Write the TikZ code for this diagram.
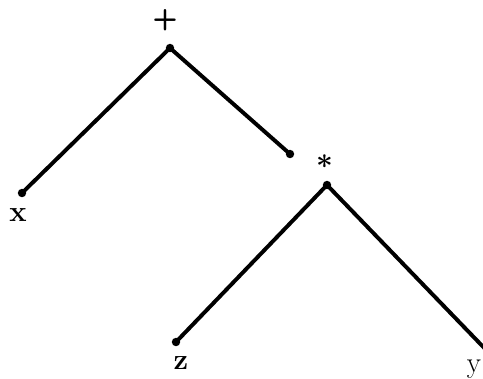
\documentclass[tikz,border=0pt]{standalone}
\usepackage{tikz}
\usetikzlibrary{positioning}

\begin{document}
\begin{tikzpicture}[
    x=0.025cm, y=-0.025cm,
    branch/.style={line width=2.8pt, line cap=round},
    dot/.style={circle, fill=black, inner sep=0pt, minimum size=6pt},
    op/.style={font=\huge\sffamily\bfseries, inner sep=0pt},
    leaf/.style={font=\huge\bfseries, inner sep=0pt}
]

% Frame - same proportions as the reference
\useasboundingbox (0,0) rectangle (483,378);

% Root: the sum
\node[op] (plus) at (165,20) {+};
\node[dot] (root) at (170,48) {};

% Left leaf x
\node[dot] (xend) at (22,193) {};
\node[leaf] (xlab) at (18,215) {x};

% Right child: the product
\node[dot] (rend) at (290,154) {};
\node[op, font=\huge\boldmath] (times) at (325,162) {$\ast$};
\node[dot] (mult) at (327,185) {};

% Leaves of the product
\node[dot] (zend) at (176,342) {};
\node[leaf] (zlab) at (181,363) {z};
\coordinate (yend) at (492,356);
\node[leaf, font=\huge] (ylab) at (474,369) {y};

% Branches
\draw[branch] (root.center) -- (xend.center);
\draw[branch] (root.center) -- (rend.center);
\draw[branch] (mult.center) -- (zend.center);
\draw[branch] (mult.center) -- (yend);

\end{tikzpicture}
\end{document}
